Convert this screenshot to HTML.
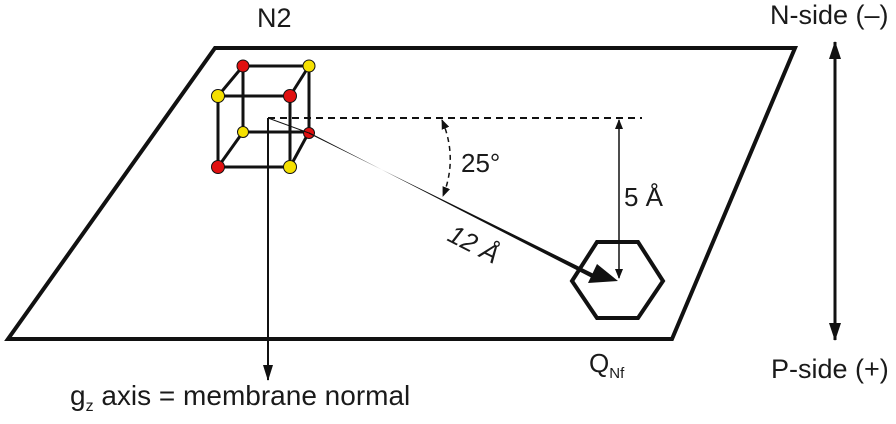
<!DOCTYPE html>
<html><head><style>
body{margin:0;background:#fff}
svg text{font-family:"Liberation Sans",sans-serif;fill:#1a1a1a}
</style></head><body>
<svg width="896" height="419" viewBox="0 0 896 419" xmlns="http://www.w3.org/2000/svg">
<defs>
<marker id="ah" markerWidth="10" markerHeight="12" refX="9" refY="6" orient="auto-start-reverse" markerUnits="userSpaceOnUse"><path d="M0,2 L10,6 L0,10 Z" fill="#111"/></marker>
<marker id="ah3" markerWidth="16" markerHeight="12" refX="15" refY="6" orient="auto" markerUnits="userSpaceOnUse"><path d="M0,1 L16,6 L0,11 Z" fill="#111"/></marker>
<marker id="ah2" markerWidth="18" markerHeight="14" refX="17" refY="7" orient="auto-start-reverse" markerUnits="userSpaceOnUse"><path d="M0,1 L18,7 L0,13 Z" fill="#111"/></marker>
</defs>
<polygon points="215,48 795,48 672,339 8,339" fill="none" stroke="#111" stroke-width="4"/>
<g stroke="#111" stroke-width="3" fill="none">
<line x1="218" y1="96" x2="290" y2="96"/><line x1="218" y1="167" x2="290" y2="167"/>
<line x1="218" y1="96" x2="218" y2="167"/><line x1="290" y1="96" x2="290" y2="167"/>
<line x1="243" y1="66" x2="309" y2="66"/><line x1="243" y1="132" x2="309" y2="132"/>
<line x1="243" y1="66" x2="243" y2="132"/><line x1="309" y1="66" x2="309" y2="132"/>
<line x1="218" y1="96" x2="243" y2="66"/><line x1="290" y1="96" x2="309" y2="66"/>
<line x1="218" y1="167" x2="243" y2="132"/><line x1="290" y1="167" x2="309" y2="132"/>
</g>
<g stroke="#111" stroke-width="1">
<circle cx="243" cy="66" r="6" fill="#e01010"/><circle cx="309" cy="66" r="6" fill="#f5e000"/>
<circle cx="218" cy="96" r="6.5" fill="#f5e000"/><circle cx="290" cy="96" r="6.5" fill="#e01010"/>
<circle cx="243" cy="132" r="5.5" fill="#f5e000"/><circle cx="309" cy="133" r="5.5" fill="#e01010"/>
<circle cx="218" cy="167" r="6.5" fill="#e01010"/><circle cx="290" cy="167" r="6.5" fill="#f5e000"/>
</g>
<line x1="268" y1="118" x2="268" y2="380" stroke="#111" stroke-width="2" marker-end="url(#ah3)"/>
<line x1="268" y1="118" x2="642" y2="118" stroke="#111" stroke-width="2" stroke-dasharray="7,5"/>
<line x1="268" y1="118" x2="309" y2="133" stroke="#111" stroke-width="1"/>
<polygon points="309,132.2 309,133.8 596,275 594,279" fill="#111"/>
<polygon points="618,281 588,283 597,264" fill="#111"/>
<polygon points="572,281 597,242 638,242 663,281 638,318 597,318" fill="none" stroke="#111" stroke-width="4"/>
<line x1="619" y1="120" x2="619" y2="278" stroke="#111" stroke-width="1.5" marker-start="url(#ah)" marker-end="url(#ah)"/>
<path d="M442,120 Q458,158 443,196" fill="none" stroke="#111" stroke-width="1.5" stroke-dasharray="5,4" marker-start="url(#ah)" marker-end="url(#ah)"/>
<line x1="835" y1="42" x2="835" y2="340" stroke="#111" stroke-width="3" marker-start="url(#ah2)" marker-end="url(#ah2)"/>
<text x="257" y="27" font-size="27">N2</text>
<text x="461" y="172" font-size="26">25°</text>
<text x="624" y="206" font-size="26">5 Å</text>
<text x="0" y="0" font-size="26" font-style="italic" transform="translate(446,240) rotate(27)">12 Å</text>
<text x="589" y="372" font-size="26">Q<tspan font-size="15" dy="6">Nf</tspan></text>
<text x="770" y="24" font-size="27">N-side (–)</text>
<text x="771" y="378" font-size="27">P-side (+)</text>
<text x="70" y="405" font-size="28">g<tspan font-size="16" dy="6">z</tspan><tspan dy="-6"> axis = membrane normal</tspan></text>
</svg>
</body></html>
